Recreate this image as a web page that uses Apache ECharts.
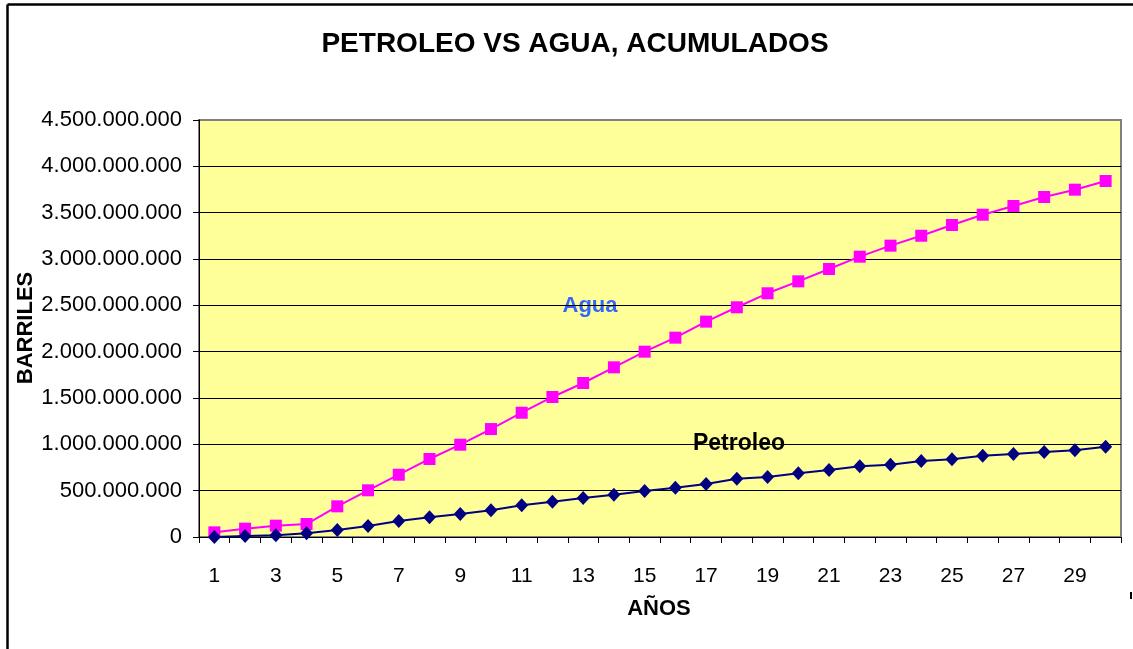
<!DOCTYPE html>
<html>
<head>
<meta charset="utf-8">
<script src="https://cdn.jsdelivr.net/npm/echarts@6/dist/echarts.min.js"></script>
<style>
html,body{margin:0;padding:0;background:#fff;}
#chart{width:1133px;height:649px;}
</style>
</head>
<body>
<div id="chart"></div>
<script>
// ---- data ----
const years = ['1','2','3','4','5','6','7','8','9','10','11','12','13','14','15','16','17','18','19','20','21','22','23','24','25','26','27','28','29','30'];
const agua = [50e6, 90e6, 122e6, 140e6, 331e6, 504e6, 672e6, 842e6, 996e6, 1165e6,
              1341e6, 1511e6, 1662e6, 1831e6, 2000e6, 2151e6, 2324e6, 2479e6, 2630e6, 2759e6,
              2892e6, 3025e6, 3144e6, 3251e6, 3367e6, 3478e6, 3572e6, 3669e6, 3748e6, 3842e6];
const petroleo = [0, 10e6, 18e6, 40e6, 76e6, 119e6, 173e6, 212e6, 248e6, 288e6,
                  342e6, 381e6, 421e6, 457e6, 496e6, 532e6, 572e6, 629e6, 647e6, 687e6,
                  723e6, 763e6, 780e6, 820e6, 838e6, 877e6, 896e6, 917e6, 935e6, 974e6];
const yMin = 0, yMax = 4500000000, yInterval = 500000000;
const titleText = 'PETROLEO VS AGUA, ACUMULADOS';
const xTitle = 'AÑOS';
const yTitle = 'BARRILES';

const FONT = 'Arial, "Liberation Sans", sans-serif';
function fmt(v){ return String(Math.round(v)).replace(/\B(?=(\d{3})+(?!\d))/g, '.'); }

const chart = echarts.init(document.getElementById('chart'), null, {renderer:'canvas'});
const splitColors = [];
for (let i = 0; i <= (yMax - yMin) / yInterval; i++) splitColors.push(i === (yMax - yMin) / yInterval ? '#808080' : '#000000');

chart.setOption({
  animation: false,
  backgroundColor: '#ffffff',
  grid: {
    left: 199, right: 12, top: 120, bottom: 112,
    show: true, backgroundColor: '#FFFF99', borderColor: '#808080', borderWidth: 2
  },
  xAxis: {
    type: 'category', data: years, boundaryGap: true,
    axisLine: {lineStyle: {color: '#000', width: 1}},
    axisTick: {show: true, interval: 0, length: 6, inside: false, lineStyle: {color: '#000'}},
    axisLabel: {interval: 1, margin: 29, color: '#000', fontSize: 21, fontFamily: FONT},
    splitLine: {show: false}
  },
  yAxis: {
    type: 'value', min: yMin, max: yMax, interval: yInterval,
    axisLine: {show: true, lineStyle: {color: '#000', width: 1}},
    axisTick: {show: true, length: 6, lineStyle: {color: '#000'}},
    axisLabel: {margin: 17, color: '#000', fontSize: 22, fontFamily: FONT, formatter: fmt},
    splitLine: {show: true, lineStyle: {color: splitColors, width: 1}}
  },
  series: [
    {
      name: 'Agua', type: 'line', data: agua,
      symbol: 'rect', symbolSize: 12, showAllSymbol: true,
      lineStyle: {color: '#FF00FF', width: 2},
      itemStyle: {color: '#FF00FF'}, z: 3
    },
    {
      name: 'Petroleo', type: 'line', data: petroleo,
      symbol: 'diamond', symbolSize: [13, 14], showAllSymbol: true,
      lineStyle: {color: '#000080', width: 2},
      itemStyle: {color: '#000080'}, z: 4
    }
  ],
  graphic: [
    {type: 'line', silent: true, shape: {x1: 7.5, y1: 4.5, x2: 1133, y2: 4.5}, style: {stroke: '#000', lineWidth: 2.5}},
    {type: 'line', silent: true, shape: {x1: 7.5, y1: 4.5, x2: 7.5, y2: 649}, style: {stroke: '#000', lineWidth: 2.5}},
    {type: 'line', silent: true, shape: {x1: 1131, y1: 592, x2: 1131, y2: 599}, style: {stroke: '#000', lineWidth: 2}},
    {type: 'text', silent: true, x: 575, y: 44, style: {text: titleText, font: 'bold 28px ' + FONT, fill: '#000', textAlign: 'center', textVerticalAlign: 'middle'}},
    {type: 'text', silent: true, x: 659, y: 609, style: {text: xTitle, font: 'bold 22px ' + FONT, fill: '#000', textAlign: 'center', textVerticalAlign: 'middle'}},
    {type: 'text', silent: true, x: 26, y: 328, rotation: Math.PI / 2, style: {text: yTitle, font: 'bold 22px ' + FONT, fill: '#000', textAlign: 'center', textVerticalAlign: 'middle'}},
    {type: 'text', silent: true, x: 590, y: 306, style: {text: 'Agua', font: 'bold 22px ' + FONT, fill: '#3366FF', textAlign: 'center', textVerticalAlign: 'middle'}},
    {type: 'text', silent: true, x: 739, y: 444, style: {text: 'Petroleo', font: 'bold 23px ' + FONT, fill: '#000', textAlign: 'center', textVerticalAlign: 'middle'}}
  ]
});
</script>
</body>
</html>
